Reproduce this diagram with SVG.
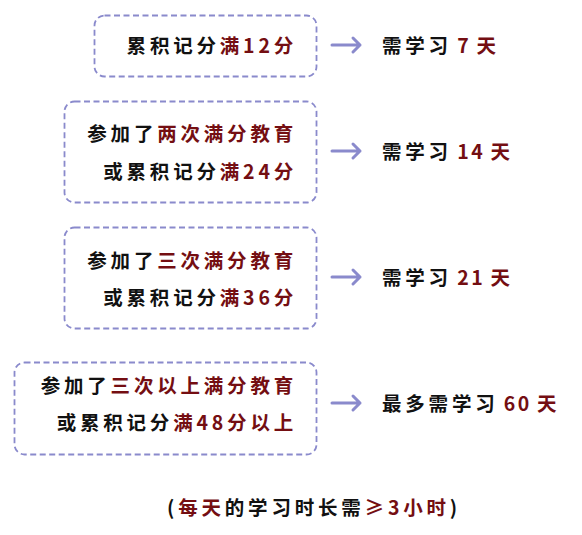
<svg xmlns="http://www.w3.org/2000/svg" width="582" height="535" viewBox="0 0 582 535">
<defs>
<style>
.box{fill:#ffffff;stroke:#8a8acc;stroke-width:1.8;stroke-dasharray:6 3.5}
.t{font-family:"Noto Sans CJK SC","Noto Sans",sans-serif;font-weight:bold;font-size:19.5px;letter-spacing:3.8px;fill:#111111}
.res{word-spacing:-3px}
.d{letter-spacing:2.5px}
.r{fill:#740e12}
.e{text-anchor:end}
.arr{fill:none;stroke:#8a8acc;stroke-width:3;stroke-linecap:round;stroke-linejoin:round}
</style>
</defs>
<rect width="582" height="535" fill="#ffffff"/>
<g id="node1">
<rect class="box" x="94.5" y="15.5" width="222" height="61" rx="10"/>
<text class="t e" x="297" y="53">累积记分<tspan class="r">满12分</tspan></text>
</g>
<g id="node2">
<rect class="box" x="64.5" y="101.5" width="252" height="101" rx="10"/>
<text class="t e" x="297" y="141">参加了<tspan class="r">两次满分教育</tspan></text>
<text class="t e" x="297" y="179">或累积记分<tspan class="r">满24分</tspan></text>
</g>
<g id="node3">
<rect class="box" x="64.5" y="227.5" width="252" height="101" rx="10"/>
<text class="t e" x="297" y="268">参加了<tspan class="r">三次满分教育</tspan></text>
<text class="t e" x="297" y="305">或累积记分<tspan class="r">满36分</tspan></text>
</g>
<g id="node4">
<rect class="box" x="14.5" y="362.5" width="302" height="92" rx="10"/>
<text class="t e" x="297" y="393">参加了<tspan class="r">三次以上满分教育</tspan></text>
<text class="t e" x="297" y="430">或累积记分<tspan class="r">满48分以上</tspan></text>
</g>
<g id="result1">
<text class="t res" x="382" y="53">需学习 <tspan class="r"><tspan class="d">7</tspan> 天</tspan></text>
</g>
<g id="result2">
<text class="t res" x="382" y="159">需学习 <tspan class="r"><tspan class="d">14</tspan> 天</tspan></text>
</g>
<g id="result3">
<text class="t res" x="382" y="285">需学习 <tspan class="r"><tspan class="d">21</tspan> 天</tspan></text>
</g>
<g id="result4">
<text class="t res" x="382" y="411">最多需学习 <tspan class="r"><tspan class="d">60</tspan> 天</tspan></text>
</g>
<g id="connectors">
<path class="arr" d="M332 45 H360 M353 38 L360 45 L353 52"/>
<path class="arr" d="M332 151 H360 M353 144 L360 151 L353 158"/>
<path class="arr" d="M332 277 H360 M353 270 L360 277 L353 284"/>
<path class="arr" d="M332 403 H360 M353 396 L360 403 L353 410"/>
</g>
<g id="note">
<text class="t" x="167" y="515">(<tspan class="r">每天</tspan>的学习时长需<tspan class="r">≥3小时</tspan>)</text>
</g>
</svg>
